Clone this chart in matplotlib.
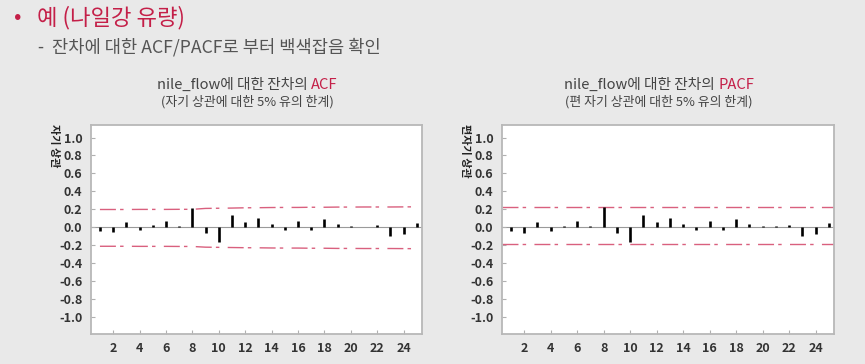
import matplotlib
matplotlib.use("Agg")
import matplotlib.pyplot as plt
import numpy as np

plt.rcParams['font.family'] = ['Noto Sans CJK KR', 'DejaVu Sans']
plt.rcParams['axes.unicode_minus'] = False

# ---- data ----
lags = list(range(1, 26))
acf_vals = [-0.040, -0.055, 0.055, -0.035, 0.020, 0.075, 0.015, 0.220, -0.065, -0.165,
            0.135, 0.060, 0.107, 0.037, -0.035, 0.070, -0.025, 0.090, 0.037, 0.015,
            0.008, 0.025, -0.095, -0.075, 0.045]
pacf_vals = [-0.040, -0.060, 0.055, -0.040, 0.018, 0.075, 0.012, 0.222, -0.065, -0.165,
             0.133, 0.055, 0.107, 0.037, -0.035, 0.070, -0.025, 0.092, 0.037, 0.015,
             0.010, 0.022, -0.095, -0.070, 0.047]
acf_upper = [0.198, 0.198, 0.198, 0.199, 0.199, 0.199, 0.200, 0.200, 0.210, 0.212,
             0.214, 0.217, 0.218, 0.220, 0.221, 0.221, 0.223, 0.223, 0.225, 0.225,
             0.226, 0.226, 0.226, 0.227, 0.228]
acf_lower = [-0.212, -0.212, -0.212, -0.213, -0.213, -0.213, -0.214, -0.214, -0.222, -0.224,
             -0.226, -0.228, -0.229, -0.231, -0.232, -0.232, -0.234, -0.234, -0.236, -0.236,
             -0.237, -0.237, -0.237, -0.238, -0.239]
pacf_upper = 0.226
pacf_lower = -0.186
xticks = [2, 4, 6, 8, 10, 12, 14, 16, 18, 20, 22, 24]
yticks = [-1.0, -0.8, -0.6, -0.4, -0.2, 0.0, 0.2, 0.4, 0.6, 0.8, 1.0]

W, H = 865, 364
fig = plt.figure(figsize=(W / 100, H / 100), dpi=100)
fig.patch.set_facecolor('#e9e9e9')

RED = '#c41f48'
BAND = '#d9607e'
GRAY = '#555555'

def px(x, y):
    return x / W, 1 - y / H

# headline
fig.text(*px(14, 18), '•', color=RED, fontsize=16, va='center', ha='left')
fig.text(*px(37, 18), '예 (나일강 유량)', color=RED, fontsize=16, va='center', ha='left')
fig.text(*px(38, 47), '-  잔차에 대한 ACF/PACF로 부터 백색잡음 확인', color=GRAY,
         fontsize=12.7, va='center', ha='left')

TFS = 10.6
SFS = 9.3

def make_axes(left_px, right_px, vals, upper, lower, ylabel, t1, tred, t2, tcenter):
    top_px, bot_px = 125, 334
    ax = fig.add_axes([left_px / W, 1 - bot_px / H, (right_px - left_px) / W,
                       (bot_px - top_px) / H])
    ax.set_facecolor('white')
    ax.set_xlim(0.3, 25.4)
    ax.set_ylim(-1.19, 1.14)
    ax.axhline(0, color='#9a9a9a', lw=0.8, zorder=1)
    ax.vlines(lags, 0, vals, color='black', lw=1.9, zorder=3)
    ls = (0, (11.5, 3.0, 2.5, 6.0))
    if np.ndim(upper) == 0:
        ax.axhline(upper, color=BAND, lw=1.0, ls=ls, zorder=2)
        ax.axhline(lower, color=BAND, lw=1.0, ls=ls, zorder=2)
    else:
        ax.plot(lags, upper, color=BAND, lw=1.0, ls=ls, zorder=2)
        ax.plot(lags, lower, color=BAND, lw=1.0, ls=ls, zorder=2)
    ax.set_xticks(xticks)
    ax.set_yticks(yticks)
    ax.set_xticklabels([str(t) for t in xticks])
    ax.set_yticklabels(['%.1f' % t for t in yticks])
    ax.tick_params(direction='in', length=3, width=0.8, color='#b0b0b0',
                   labelsize=9, labelcolor='#333333', pad=6)
    for lab in ax.get_xticklabels() + ax.get_yticklabels():
        lab.set_fontweight('bold')
    for s in ax.spines.values():
        s.set_color('#b8b8b8')
        s.set_linewidth(1.3)
    # y label near top
    fig.text(*px(left_px - 36, 124), ylabel, rotation=270, fontsize=8, fontweight='bold',
             color='#222222', ha='center', va='top')
    # two-colour title centred
    r = fig.canvas.get_renderer()
    a = fig.text(0, 0, t1, fontsize=TFS)
    b = fig.text(0, 0, tred, fontsize=TFS)
    w1 = a.get_window_extent(r).width
    w2 = b.get_window_extent(r).width
    a.remove()
    b.remove()
    x0 = tcenter - (w1 + w2) / 2
    fig.text(*px(x0, 85), t1, fontsize=TFS, color='#444444', ha='left', va='center')
    fig.text(*px(x0 + w1, 85), tred, fontsize=TFS, color=RED, ha='left', va='center')
    fig.text(*px(tcenter, 102), t2, fontsize=SFS, color='#444444', ha='center', va='center')
    return ax

make_axes(90.7, 422, acf_vals, acf_upper, acf_lower, '자기 상관',
          'nile_flow에 대한 잔차의 ', 'ACF', '(자기 상관에 대한 5% 유의 한계)', 247)
make_axes(501.7, 834.3, pacf_vals, pacf_upper, pacf_lower, '편자기 상관',
          'nile_flow에 대한 잔차의 ', 'PACF', '(편 자기 상관에 대한 5% 유의 한계)', 659)

fig.savefig('out.png', dpi=100, facecolor=fig.get_facecolor())
